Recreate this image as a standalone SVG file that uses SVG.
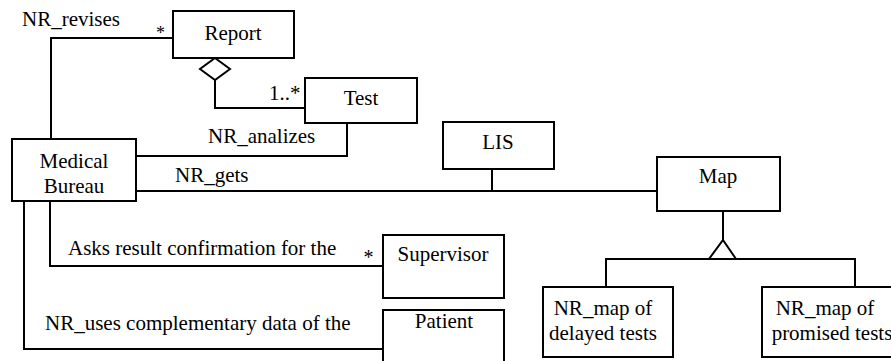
<svg xmlns="http://www.w3.org/2000/svg" width="891" height="361" viewBox="0 0 891 361">
<style>
.box{fill:#fff;stroke:#000;stroke-width:2}
.ln{fill:none;stroke:#000;stroke-width:2}
.hd{fill:#fff;stroke:#000;stroke-width:2}
</style>
<rect width="891" height="361" fill="#fff"/>
<g id="connectors">
<polyline class="ln" points="51,140 51,38 173,38"/>
<polyline class="ln" points="215,80 215,108 305,108"/>
<path class="hd" d="M215,58 L230,69 L215,80 L200,69 Z"/>
<polyline class="ln" points="136,156 347,156 347,124"/>
<line class="ln" x1="136" y1="191" x2="657" y2="191"/>
<line class="ln" x1="492" y1="169" x2="492" y2="191"/>
<line class="ln" x1="723" y1="211" x2="723" y2="240"/>
<polyline class="ln" points="606,287 606,259 855,259 855,287"/>
<path class="hd" d="M723,240 L736,259 L709,259 Z"/>
<polyline class="ln" points="50,201 50,266 383,266"/>
<polyline class="ln" points="24,201 24,349 383,349"/>
<text x="22" y="26" font-family="Liberation Serif" font-size="21">NR_revises</text>
<text x="156" y="38.5" font-family="Liberation Serif" font-size="18">*</text>
<text x="269" y="100" font-family="Liberation Serif" font-size="21">1..*</text>
<text x="208" y="143" font-family="Liberation Serif" font-size="21">NR_analizes</text>
<text x="175" y="182" font-family="Liberation Serif" font-size="21">NR_gets</text>
<text x="68" y="255" font-family="Liberation Serif" font-size="21">Asks result confirmation for the</text>
<text x="363.5" y="264" font-family="Liberation Serif" font-size="20">*</text>
<text x="45" y="330" font-family="Liberation Serif" font-size="21">NR_uses complementary data of the</text>
</g>
<g id="report"><rect class="box" x="173" y="11" width="121" height="47"/><text text-anchor="middle" x="233" y="40" font-family="Liberation Serif" font-size="21">Report</text></g>
<g id="test"><rect class="box" x="305" y="78" width="112" height="45"/><text text-anchor="middle" x="361" y="105" font-family="Liberation Serif" font-size="21">Test</text></g>
<g id="medical-bureau"><rect class="box" x="12" y="139" width="124" height="62"/><text text-anchor="middle" x="74" y="168" font-family="Liberation Serif" font-size="21">Medical</text><text text-anchor="middle" x="74" y="193" font-family="Liberation Serif" font-size="21">Bureau</text></g>
<g id="lis"><rect class="box" x="443" y="122" width="111" height="47"/><text text-anchor="middle" x="498" y="149" font-family="Liberation Serif" font-size="21">LIS</text></g>
<g id="map"><rect class="box" x="657" y="157" width="123" height="54"/><text text-anchor="middle" x="718" y="183" font-family="Liberation Serif" font-size="21">Map</text></g>
<g id="map-delayed"><rect class="box" x="543" y="287" width="130" height="70"/><text text-anchor="middle" x="603" y="315" font-family="Liberation Serif" font-size="21">NR_map of</text><text text-anchor="middle" x="603" y="340" font-family="Liberation Serif" font-size="21">delayed tests</text></g>
<g id="map-promised"><rect class="box" x="762" y="287" width="140" height="70"/><text text-anchor="middle" x="825" y="315" font-family="Liberation Serif" font-size="21">NR_map of</text><text text-anchor="middle" x="832" y="340" font-family="Liberation Serif" font-size="21">promised tests</text></g>
<g id="supervisor"><rect class="box" x="383" y="235" width="121" height="63"/><text text-anchor="middle" x="443" y="261" font-family="Liberation Serif" font-size="21">Supervisor</text></g>
<g id="patient"><rect class="box" x="383" y="310" width="121" height="60"/><text text-anchor="middle" x="444" y="328" font-family="Liberation Serif" font-size="21">Patient</text></g>
</svg>
